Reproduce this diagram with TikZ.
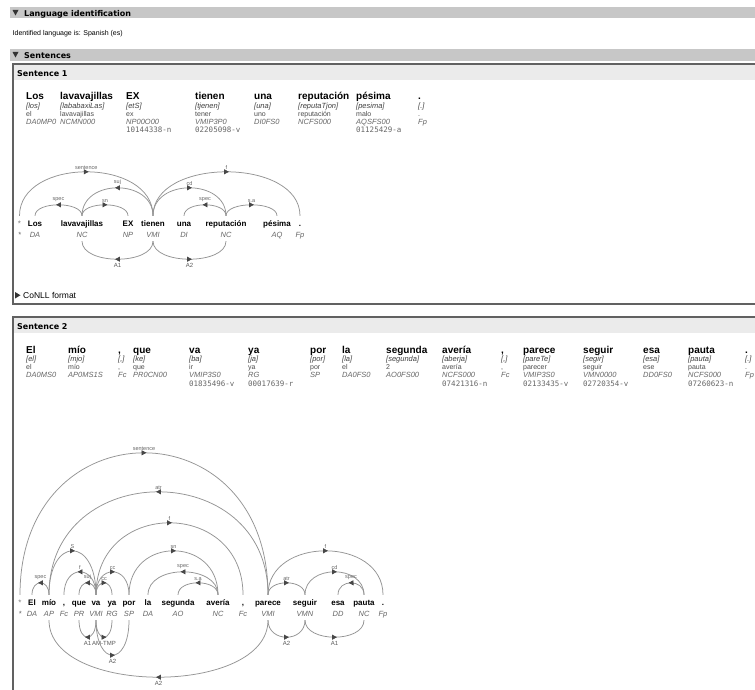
\documentclass[tikz,border=0pt]{standalone}
\usepackage{fontspec}
\setmainfont{Liberation Sans}
\setmonofont{DejaVu Sans Mono}
\newfontfamily\hdrfont{DejaVu Sans}
\usetikzlibrary{arrows.meta,decorations.markings}
\tikzset{
  hbar/.style={fill=black!22,draw=none},
  sband/.style={fill=black!8,draw=none},
  boxline/.style={draw=black!62,line width=2pt},
  tri/.style={fill=black!80,draw=none},
  hdrtxt/.style={font=\hdrfont\bfseries\fontsize{8}{9}\selectfont,anchor=base west,inner sep=0pt},
  plain/.style={font=\fontsize{7}{8}\selectfont,anchor=base west,inner sep=0pt},
  tokw/.style={font=\bfseries\fontsize{10}{12}\selectfont,anchor=base west,inner sep=0pt},
  tokp/.style={font=\itshape\fontsize{7.5}{9}\selectfont,text=black!75,anchor=base west,inner sep=0pt},
  tokl/.style={font=\fontsize{7}{8}\selectfont,text=black!70,anchor=base west,inner sep=0pt},
  tokt/.style={font=\itshape\fontsize{7.5}{9}\selectfont,text=black!60,anchor=base west,inner sep=0pt},
  toks/.style={font=\ttfamily\fontsize{7.5}{9}\selectfont,text=black!60,anchor=base west,inner sep=0pt},
  depw/.style={font=\bfseries\fontsize{8}{9}\selectfont,anchor=base,inner sep=0pt,text height=6pt,text depth=2pt},
  dept/.style={font=\itshape\fontsize{7.5}{9}\selectfont,text=black!60,anchor=base,inner sep=0pt,text height=5.5pt,text depth=2pt},
  arclbl/.style={font=\fontsize{5.5}{6}\selectfont,text=black!60,inner sep=0.3pt},
  arclbl2/.style={font=\fontsize{6}{7}\selectfont,text=black!65,inner sep=0.3pt},
  deparc/.style={draw=black!42,line width=0.75pt,postaction={decorate},
    decoration={markings,mark=at position 0.5 with {\arrow[xshift=2.5pt]{Triangle[length=5pt,width=5pt,color=black!72]}}}}
}
\newcommand\tkY{100}
\newcommand\dY{226}
\newcommand\tk[7]{%
  \node[tokw] (#1w) at (#2,\tkY) {#3};
  \node[tokp] (#1p) at (#2,\tkY+8.5) {#4};
  \node[tokl] (#1l) at (#2,\tkY+16.5) {#5};
  \node[tokt] (#1t) at (#2,\tkY+24.5) {#6};
  \node[toks] (#1s) at (#2,\tkY+33) {#7};}
\newcommand\dw[4]{%
  \node[depw] (#1d) at (#2,\dY) {#3};
  \node[dept] (#1t) at (#2,\dY+11) {#4};}
\newcommand\uarc[4]{\draw[deparc] ([yshift=4pt]#1d.north) .. controls +(0,{-4*#3/3}) and +(0,{-4*#3/3}) .. ([yshift=4pt]#2d.north) node[midway,above=2pt,arclbl] {#4};}
\newcommand\larc[4]{\draw[deparc] ([yshift=-2pt]#1t.south) .. controls +(0,{4*#3/3}) and +(0,{4*#3/3}) .. ([yshift=-2pt]#2t.south) node[midway,below=3pt,arclbl2] {#4};}
\begin{document}
\begin{tikzpicture}[x=1pt,y=-1pt]
\useasboundingbox (0,0) rectangle (755,690);
\fill[white] (0,0) rectangle (755,690);
% section headers
\fill[hbar] (10,7) rectangle (755,18.5);
\fill[tri] (12.5,10) -- (18.5,10) -- (15.5,15.5) -- cycle;
\node[hdrtxt] (h1) at (24,16.3) {Language identification};
\node[plain] (lang) at (12.5,35.5) {Identified language is: Spanish (es)};
\fill[hbar] (10,49) rectangle (755,61);
\fill[tri] (12.5,52) -- (18.5,52) -- (15.5,57.5) -- cycle;
\node[hdrtxt] (h2) at (24,58.5) {Sentences};
% sentence 1 box
\fill[sband] (14,65) rectangle (755,80);
\draw[boxline] (760,64) -- (13,64) -- (13,304) -- (760,304);
\node[hdrtxt] (s1h) at (17,76.5) {Sentence 1};
\renewcommand\tkY{100}
\tk{a1}{26}{Los}{[los]}{el}{DA0MP0}{}
\tk{a2}{60}{lavavajillas}{[lababaxiLas]}{lavavajillas}{NCMN000}{}
\tk{a3}{126}{EX}{[etS]}{ex}{NP00O00}{10144338-n}
\tk{a4}{195}{tienen}{[tjenen]}{tener}{VMIP3P0}{02205098-v}
\tk{a5}{254}{una}{[una]}{uno}{DI0FS0}{}
\tk{a6}{298}{reputación}{[reputaTjon]}{reputación}{NCFS000}{}
\tk{a7}{356}{pésima}{[pesima]}{malo}{AQSFS00}{01125429-a}
\tk{a8}{418}{.}{[.]}{.}{Fp}{}
% sentence 1 dependency tree
\renewcommand\dY{226}
\dw{b0}{19.5}{\textcolor{black!50}{\mdseries*}}{*}
\dw{b1}{35}{Los}{DA}
\dw{b2}{82}{lavavajillas}{NC}
\dw{b3}{128}{EX}{NP}
\dw{b4}{153}{tienen}{VMI}
\dw{b5}{184}{una}{DI}
\dw{b6}{226}{reputación}{NC}
\dw{b7}{277}{pésima}{AQ}
\dw{b8}{300}{.}{Fp}
\uarc{b0}{b4}{44}{sentence}
\uarc{b4}{b8}{44}{f}
\uarc{b4}{b2}{28}{suj}
\uarc{b4}{b6}{28}{cd}
\uarc{b2}{b1}{11}{spec}
\uarc{b2}{b3}{11}{sn}
\uarc{b6}{b5}{11}{spec}
\uarc{b6}{b7}{11}{s.a}
\larc{b4}{b2}{18}{A1}
\larc{b4}{b6}{18}{A2}
% CoNLL
\fill[tri] (15,292) -- (15,298.5) -- (20.5,295.25) -- cycle;
\node[plain,font=\fontsize{8.5}{10}\selectfont] (conll) at (23,298.5) {CoNLL format};
% sentence 2 box
\fill[sband] (14,318) rectangle (755,333);
\draw[boxline] (760,317) -- (13,317) -- (13,700);
\node[hdrtxt] (s2h) at (17,329.5) {Sentence 2};
\renewcommand\tkY{353}
\tk{c1}{26}{El}{[el]}{el}{DA0MS0}{}
\tk{c2}{68}{mío}{[mjo]}{mío}{AP0MS1S}{}
\tk{c3}{118}{,}{[,]}{,}{Fc}{}
\tk{c4}{133}{que}{[ke]}{que}{PR0CN00}{}
\tk{c5}{189}{va}{[ba]}{ir}{VMIP3S0}{01835496-v}
\tk{c6}{248}{ya}{[ja]}{ya}{RG}{00017639-r}
\tk{c7}{310}{por}{[por]}{por}{SP}{}
\tk{c8}{342}{la}{[la]}{el}{DA0FS0}{}
\tk{c9}{386}{segunda}{[segunda]}{2}{AO0FS00}{}
\tk{c10}{442}{avería}{[aberja]}{avería}{NCFS000}{07421316-n}
\tk{c11}{501}{,}{[,]}{,}{Fc}{}
\tk{c12}{523}{parece}{[pareTe]}{parecer}{VMIP3S0}{02133435-v}
\tk{c13}{583}{seguir}{[segir]}{seguir}{VMN0000}{02720354-v}
\tk{c14}{643}{esa}{[esa]}{ese}{DD0FS0}{}
\tk{c15}{688}{pauta}{[pauta]}{pauta}{NCFS000}{07260623-n}
\tk{c16}{745}{.}{[.]}{.}{Fp}{}
% sentence 2 dependency tree
\renewcommand\dY{605}
\dw{e0}{20}{\textcolor{black!50}{\mdseries*}}{*}
\dw{e1}{32}{El}{DA}
\dw{e2}{49}{mío}{AP}
\dw{e3}{64}{,}{Fc}
\dw{e4}{79}{que}{PR}
\dw{e5}{96}{va}{VMI}
\dw{e6}{112}{ya}{RG}
\dw{e7}{129}{por}{SP}
\dw{e8}{148}{la}{DA}
\dw{e9}{178}{segunda}{AO}
\dw{e10}{218}{avería}{NC}
\dw{e11}{243}{,}{Fc}
\dw{e12}{268}{parece}{VMI}
\dw{e13}{305}{seguir}{VMN}
\dw{e14}{338}{esa}{DD}
\dw{e15}{364}{pauta}{NC}
\dw{e16}{383}{.}{Fp}
\uarc{e0}{e12}{142}{sentence}
\uarc{e12}{e2}{103}{atr}
\uarc{e5}{e11}{72}{f}
\uarc{e2}{e5}{44}{S}
\uarc{e7}{e10}{44}{sn}
\uarc{e12}{e16}{44}{f}
\uarc{e5}{e3}{23}{f}
\uarc{e5}{e7}{23}{cc}
\uarc{e10}{e8}{23}{spec}
\uarc{e13}{e15}{23}{cd}
\uarc{e2}{e1}{12}{spec}
\uarc{e5}{e4}{12}{suj}
\uarc{e5}{e6}{12}{cc}
\uarc{e10}{e9}{12}{s.a}
\uarc{e12}{e13}{12}{atr}
\uarc{e15}{e14}{12}{spec}
\larc{e5}{e4}{17}{A1}
\larc{e5}{e6}{17}{AM-TMP}
\larc{e5}{e7}{35}{A2}
\larc{e12}{e2}{57}{A2}
\larc{e12}{e13}{17}{A2}
\larc{e13}{e15}{17}{A1}
\end{tikzpicture}
\end{document}
